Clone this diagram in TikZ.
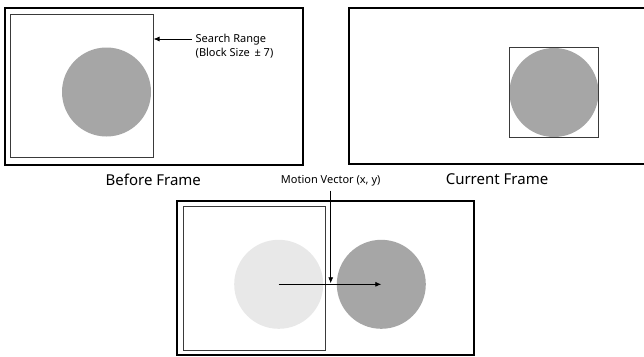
\documentclass[tikz,border=0pt]{standalone}
\usepackage{fontspec}
\setmainfont{Noto Sans}
\usetikzlibrary{arrows.meta}
\definecolor{darkdisc}{HTML}{A6A6A6}
\definecolor{lightdisc}{HTML}{E8E8E8}
\definecolor{boxline}{HTML}{3A3A3A}
\tikzset{
  frame/.style={draw=black, line width=2pt, rectangle, inner sep=0pt, outer sep=0pt},
  blockbox/.style={draw=boxline, line width=1pt, rectangle, inner sep=0pt, outer sep=0pt},
  disc/.style={circle, inner sep=0pt, outer sep=0pt, minimum size=89pt},
  title/.style={font=\fontsize{15}{18}\selectfont, inner sep=0pt},
  small/.style={font=\fontsize{11}{14}\selectfont, inner sep=0pt},
  arr/.style={line width=0.8pt, -{Latex[length=6pt,width=5pt]}}
}
\begin{document}
\begin{tikzpicture}[x=1pt,y=-1pt]
\useasboundingbox (0,0) rectangle (644,356);
\clip (0,0) rectangle (644,356);
\fill[white] (0,0) rectangle (644,356);
% before frame
\node[frame, minimum width=297.5pt, minimum height=157.5pt] (frameA) at (153.75,86.25) {};
\node[disc, fill=darkdisc] (circA) at (106.5,92) {};
\node[blockbox, minimum width=143pt, minimum height=143pt] (searchA) at (82,86) {};
\node[small, anchor=west, align=left] (srlabel) at (195.5,46) {Search Range\\(Block Size \,± 7)};
\coordinate (srstart) at (192,39);
\draw[arr] (srstart) -- (searchA.east |- srstart);
\node[title] (titleA) at (153.3,179.5) {Before Frame};
% current frame
\node[frame, minimum width=311pt, minimum height=156pt] (frameB) at (504.5,86) {};
\node[disc, fill=darkdisc] (circB) at (554,92.5) {};
\node[blockbox, minimum width=89.4pt, minimum height=89.6pt] (blockB) at (554,92.5) {};
\node[title] (titleB) at (497,179.5) {Current Frame};
% combined
\node[frame, minimum width=297.3pt, minimum height=154pt] (frameC) at (325.35,278) {};
\node[disc, fill=lightdisc] (circC1) at (278.7,284.3) {};
\node[disc, fill=darkdisc] (circC2) at (381.3,284.3) {};
\node[blockbox, minimum width=142pt, minimum height=143.6pt] (searchC) at (254.3,278.5) {};
\draw[arr] (circC1.center) -- (circC2.center);
\node[small, font=\fontsize{11}{13}\selectfont] (mvlabel) at (330.7,180.5) {Motion Vector (x, y)};
\coordinate (mvstart) at (330.7,190.5);
\coordinate (mvend) at (330.7,283.3);
\draw[arr] (mvstart) -- (mvend);
\end{tikzpicture}
\end{document}
